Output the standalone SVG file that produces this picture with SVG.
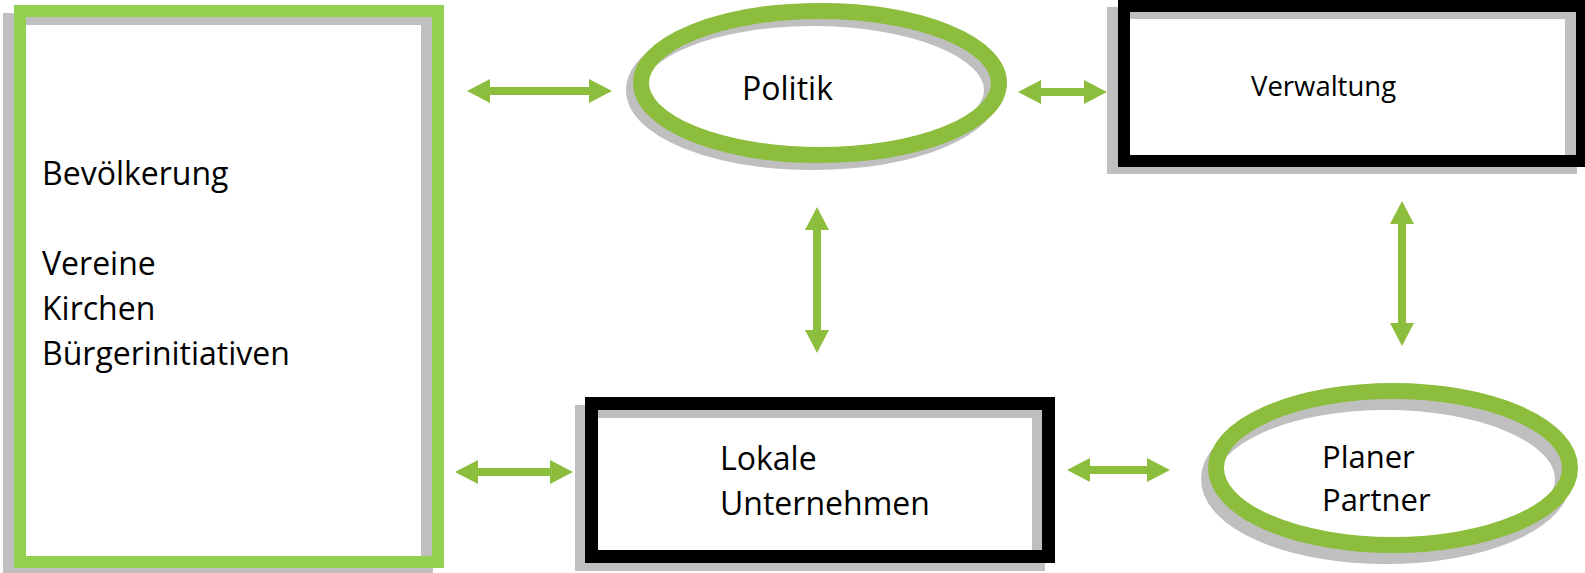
<svg xmlns="http://www.w3.org/2000/svg" width="1585" height="573" viewBox="0 0 1585 573">
<style>
  .shadow { fill: none; stroke: #BFBFBF; }
  .green-box { fill: none; stroke: #92D050; stroke-width: 12; }
  .black-box { fill: none; stroke: #000000; }
  .green-ell { fill: none; stroke: #8DBD3C; stroke-width: 16; }
  .lbl { font-family: "Open Sans", "Noto Sans", "DejaVu Sans", sans-serif; font-size: 32px; fill: #000000; }
  .conn { stroke: #8DBD3C; stroke-width: 8; fill: none; marker-start: url(#head); marker-end: url(#head); }
</style>
<defs>
  <marker id="head" viewBox="0 0 23 24" refX="3" refY="12" markerWidth="23" markerHeight="24" markerUnits="userSpaceOnUse" orient="auto-start-reverse">
    <path d="M0,0 L23,12 L0,24 Z" fill="#8DBD3C"/>
  </marker>
</defs>
<rect width="1585" height="573" fill="#FFFFFF"/>

<g id="bevoelkerung">
  <rect class="shadow" x="9" y="19" width="418" height="551" stroke-width="12"/>
  <rect class="green-box" x="20" y="11" width="418" height="551"/>
  <text class="lbl" x="42" y="185">Bevölkerung</text>
  <text class="lbl" x="42" y="275">Vereine</text>
  <text class="lbl" x="42" y="320">Kirchen</text>
  <text class="lbl" x="42" y="365">Bürgerinitiativen</text>
</g>

<g id="politik">
  <ellipse class="shadow" cx="813" cy="90" rx="179" ry="72" stroke-width="16"/>
  <ellipse class="green-ell" cx="820" cy="83" rx="179" ry="72"/>
  <text class="lbl" x="742" y="100">Politik</text>
</g>

<g id="verwaltung">
  <rect class="shadow" x="1113" y="13" width="458" height="155" stroke-width="12"/>
  <rect class="black-box" x="1124" y="6" width="458" height="155" stroke-width="12"/>
  <text class="lbl" x="1251" y="96" style="font-size:27.5px">Verwaltung</text>
</g>

<g id="lokale-unternehmen">
  <rect class="shadow" x="581.5" y="411.5" width="457" height="153" stroke-width="13"/>
  <rect class="black-box" x="591.5" y="403.5" width="457" height="153" stroke-width="13"/>
  <text class="lbl" x="720" y="470">Lokale</text>
  <text class="lbl" x="720" y="515">Unternehmen</text>
</g>

<g id="planer-partner">
  <ellipse class="shadow" cx="1386" cy="479" rx="177" ry="77" stroke-width="16"/>
  <ellipse class="green-ell" cx="1393" cy="468" rx="177" ry="77"/>
  <text class="lbl" x="1322" y="468" style="font-size:31px">Planer</text>
  <text class="lbl" x="1322" y="511" style="font-size:31px">Partner</text>
</g>

<g id="connectors">
  <line class="conn" x1="487" y1="91" x2="592" y2="91"/>
  <line class="conn" x1="1038" y1="92" x2="1087" y2="92"/>
  <line class="conn" x1="817" y1="227" x2="817" y2="333"/>
  <line class="conn" x1="1402" y1="221" x2="1402" y2="326"/>
  <line class="conn" x1="475" y1="472" x2="553" y2="472"/>
  <line class="conn" x1="1087" y1="470" x2="1150" y2="470"/>
</g>
</svg>
